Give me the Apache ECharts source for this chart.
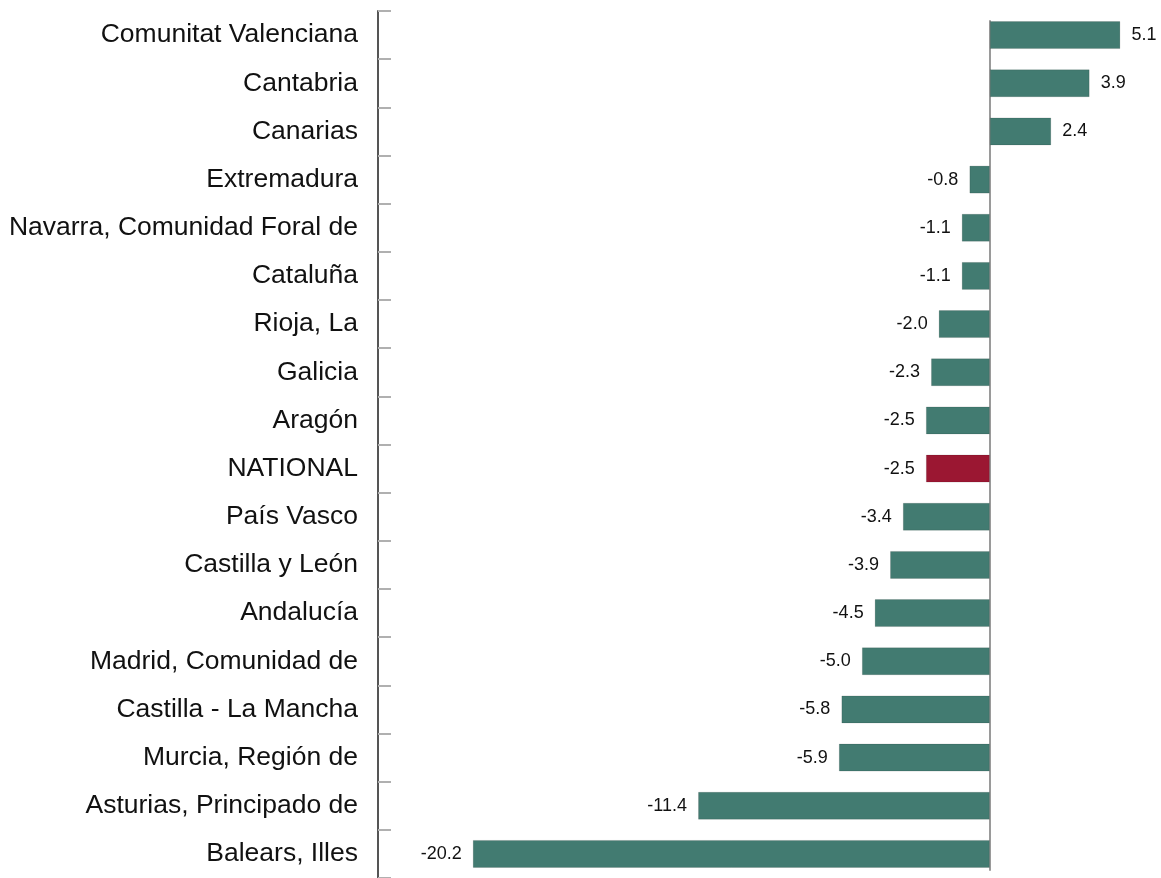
<!DOCTYPE html>
<html>
<head>
<meta charset="utf-8">
<script src="https://cdn.jsdelivr.net/npm/echarts@6/dist/echarts.min.js"></script>
<style>
  html, body { margin: 0; padding: 0; background: #fff; }
  #chart { width: 1161px; height: 878px; }
</style>
</head>
<body>
<div id="chart"></div>
<script>
// regions, top to bottom
var regions = [
  'Comunitat Valenciana', 'Cantabria', 'Canarias', 'Extremadura',
  'Navarra, Comunidad Foral de', 'Cataluña', 'Rioja, La', 'Galicia',
  'Aragón', 'NATIONAL', 'País Vasco', 'Castilla y León', 'Andalucía',
  'Madrid, Comunidad de', 'Castilla - La Mancha', 'Murcia, Región de',
  'Asturias, Principado de', 'Balears, Illes'
]
var values = [5.1, 3.9, 2.4, -0.8, -1.1, -1.1, -2.0, -2.3, -2.5, -2.5,
  -3.4, -3.9, -4.5, -5.0, -5.8, -5.9, -11.4, -20.2]
var highlight = 'NATIONAL'

var teal = '#427b71'
var red = '#9b1732'
var font = '"Liberation Sans", Arial, sans-serif'

var chart = echarts.init(document.getElementById('chart'))

var barData = values.map(function (v, i) {
  return {
    value: v,
    itemStyle: { color: regions[i] === highlight ? red : teal },
    label: { position: v < 0 ? 'left' : 'right' }
  }
})

chart.setOption({
  animation: false,
  grid: [
    { left: 378, top: 11, width: 768, height: 869 },
    // thin grid just for the zero line, bar top to bar bottom
    { left: 378, top: 21, width: 768, height: 849 }
  ],
  xAxis: [
    { gridIndex: 0, type: 'value', min: -23.9, max: 6.1, show: false },
    { gridIndex: 1, type: 'value', min: -23.9, max: 6.1, show: false }
  ],
  yAxis: [
    {
      gridIndex: 0,
      type: 'category',
      data: regions,
      inverse: true,
      axisLine: { show: true, onZero: false, lineStyle: { color: '#555', width: 2 } },
      axisTick: { show: true, inside: true, length: 13, lineStyle: { color: '#b0b0b0', width: 2 } },
      axisLabel: {
        margin: 20,
        color: '#111',
        fontSize: 26.5,
        fontFamily: font
      },
      splitLine: { show: false }
    },
    {
      gridIndex: 1,
      type: 'value',
      axisLine: { show: true, onZero: true, lineStyle: { color: '#9a9a9a', width: 2 } },
      axisTick: { show: false },
      axisLabel: { show: false },
      splitLine: { show: false }
    }
  ],
  series: [
    {
      type: 'bar',
      xAxisIndex: 0,
      yAxisIndex: 0,
      data: barData,
      barWidth: 28,
      z: 1,
      itemStyle: { borderColor: 'rgba(0,0,0,0.12)', borderWidth: 1 },
      label: {
        show: true,
        distance: 11,
        color: '#111',
        fontSize: 18,
        fontFamily: font,
        formatter: function (p) { return p.value.toFixed(1) }
      }
    }
  ]
})
</script>
</body>
</html>
